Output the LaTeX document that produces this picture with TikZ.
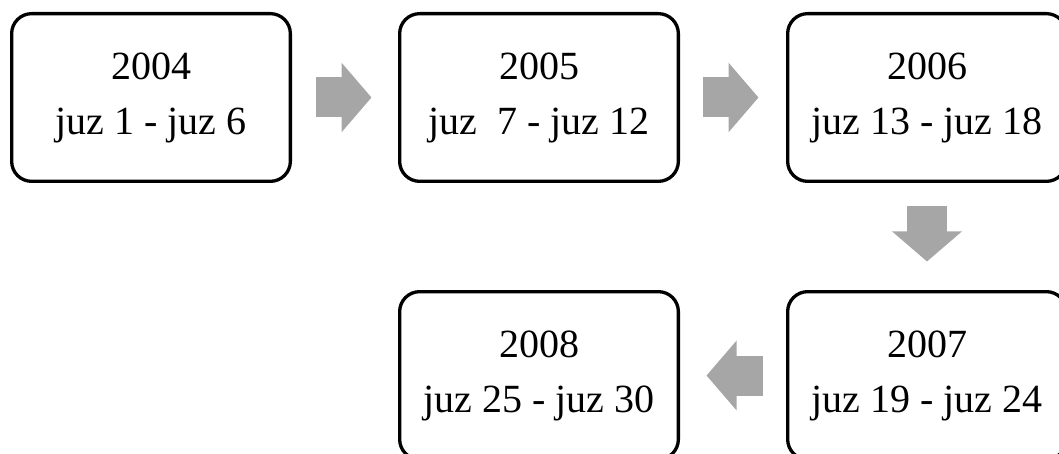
\documentclass[tikz,border=0pt]{standalone}
\usepackage{fontspec}
\setmainfont{Liberation Serif}
\usepackage{xcolor}
\definecolor{flowgray}{HTML}{A6A6A6}
\usepackage{tikz}
\usetikzlibrary{positioning,arrows.meta}

\begin{document}
\begin{tikzpicture}[x=1pt, y=1pt, node distance=106pt,
                   yearbox/.style={draw=black, line width=3.3pt, rounded corners=20pt,
                                   minimum width=278.7pt, minimum height=167.7pt,
                                   align=center, font=\fontsize{40}{55}\selectfont},
                   flow/.style={draw=flowgray, line width=40pt,
                                -{Triangle[length=30pt, width=68pt, fill=flowgray]}}]
    \useasboundingbox (0,0) rectangle (1059,-454);
    \node[yearbox] at (151,-97.5) (b1) {2004\\juz 1 - juz 6};
    \node[yearbox, right=of b1] (b2) {2005\\juz\ \ 7 - juz 12};
    \node[yearbox, right=of b2] (b3) {2006\\juz 13 - juz 18};
    \node[yearbox, below=107pt of b3] (b4) {2007\\juz 19 - juz 24};
    \node[yearbox, left=of b4] (b5) {2008\\juz 25 - juz 30};
    \draw[flow, shorten <=23.5pt, shorten >=26.5pt] (b1.east) -- (b2.west);
    \draw[flow, shorten <=22.5pt, shorten >=27.5pt] (b2.east) -- (b3.west);
    \draw[flow, shorten <=23.5pt, shorten >=28.5pt] (b3.south) -- (b4.north);
    \draw[flow, shorten <=23.5pt, shorten >=26.5pt] (b4.west) -- (b5.east);
\end{tikzpicture}
\end{document}
